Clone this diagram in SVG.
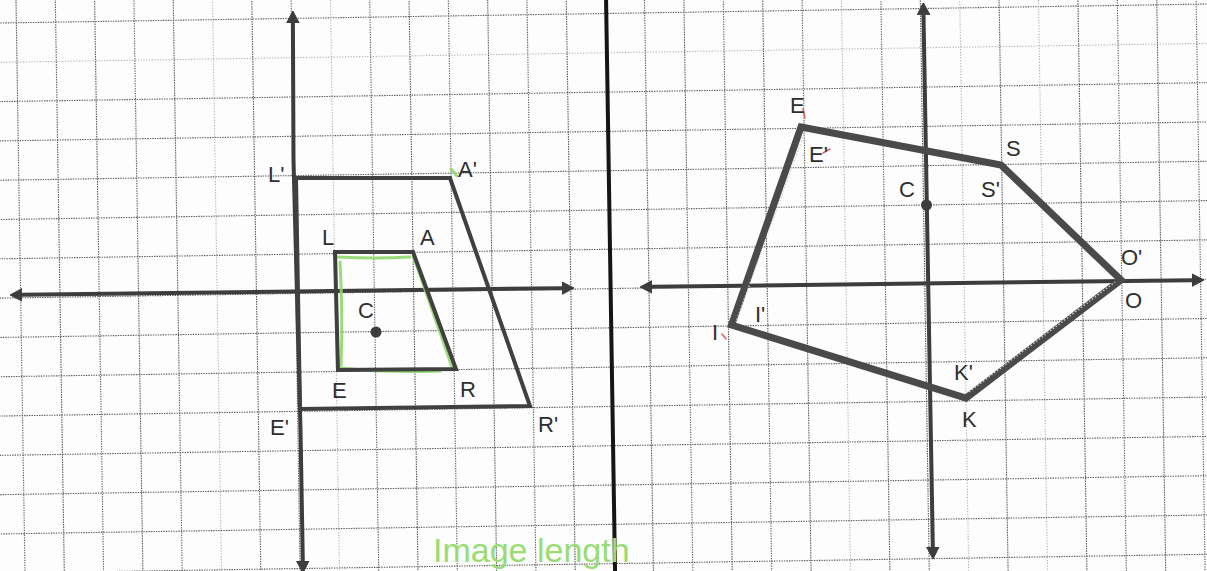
<svg xmlns="http://www.w3.org/2000/svg" width="1207" height="571" viewBox="0 0 1207 571">
  <style>
    .g { stroke: #5a5a5a; stroke-width: 1.1; stroke-dasharray: 1.4 1.1; fill: none; }
    .gf { stroke: #a8a8a8; stroke-width: 1; stroke-dasharray: 1.2 1.6; fill: none; }
    .axis { stroke: #3d3d3d; stroke-width: 4; fill: none; marker-start: url(#ah); marker-end: url(#ah); }
    .shapeL { stroke: #404040; stroke-width: 4; fill: none; stroke-linejoin: miter; }
    .shapeR { stroke: #4a4a4a; stroke-width: 7; fill: none; stroke-linejoin: miter; }
    .hl { stroke: #d0d0d0; stroke-width: 1.4; stroke-dasharray: 1.5 2; fill: none; }
    .green { stroke: #8fd86a; stroke-width: 3; fill: none; stroke-linecap: round; opacity: 0.9; }
    .red { stroke: #e06060; stroke-width: 1.5; fill: none; stroke-linecap: round; }
    .lbl { font-family: "Liberation Sans", Arial, sans-serif; font-size: 22px; fill: #2e2e2e; }
    .dot { fill: #3d3d3d; }
  </style>
  <defs>
    <marker id="ah" viewBox="0 0 12 14" refX="0" refY="7" markerWidth="12" markerHeight="14" markerUnits="userSpaceOnUse" orient="auto-start-reverse">
      <path d="M0,0.8 L12,7 L0,13.2 Z" fill="#3d3d3d" stroke="#3d3d3d" stroke-width="1" stroke-linejoin="round"/>
    </marker>
  </defs>
  <rect x="0" y="0" width="1207" height="571" fill="#fdfdfd"/>

  <!-- graph paper grid (slightly rotated scan) -->
  <g id="grid" transform="rotate(-0.9)">
    <g id="grid-h">
      <line class="g" x1="-20" y1="23" x2="1240" y2="23"/>
      <line class="gf" x1="-20" y1="62.3" x2="1240" y2="62.3"/>
      <line class="g" x1="-20" y1="101.6" x2="1240" y2="101.6"/>
      <line class="g" x1="-20" y1="140.9" x2="1240" y2="140.9"/>
      <line class="g" x1="-20" y1="180.2" x2="1240" y2="180.2"/>
      <line class="g" x1="-20" y1="219.5" x2="1240" y2="219.5"/>
      <line class="g" x1="-20" y1="258.8" x2="1240" y2="258.8"/>
      <line class="g" x1="-20" y1="298.1" x2="1240" y2="298.1"/>
      <line class="g" x1="-20" y1="337.4" x2="1240" y2="337.4"/>
      <line class="g" x1="-20" y1="376.7" x2="1240" y2="376.7"/>
      <line class="g" x1="-20" y1="416" x2="1240" y2="416"/>
      <line class="g" x1="-20" y1="455.3" x2="1240" y2="455.3"/>
      <line class="g" x1="-20" y1="494.6" x2="1240" y2="494.6"/>
      <line class="g" x1="-20" y1="533.9" x2="1240" y2="533.9"/>
      <line class="g" x1="-20" y1="573.2" x2="1240" y2="573.2"/>
    </g>
    <g id="grid-v-left">
      <line class="g" x1="16" y1="-20" x2="16" y2="600"/>
      <line class="g" x1="55.3" y1="-20" x2="55.3" y2="600"/>
      <line class="g" x1="94.6" y1="-20" x2="94.6" y2="600"/>
      <line class="g" x1="133.9" y1="-20" x2="133.9" y2="600"/>
      <line class="g" x1="173.2" y1="-20" x2="173.2" y2="600"/>
      <line class="gf" x1="212.5" y1="-20" x2="212.5" y2="600"/>
      <line class="g" x1="251.8" y1="-20" x2="251.8" y2="600"/>
      <line class="g" x1="291.1" y1="-20" x2="291.1" y2="600"/>
      <line class="gf" x1="330.4" y1="-20" x2="330.4" y2="600"/>
      <line class="g" x1="369.7" y1="-20" x2="369.7" y2="600"/>
      <line class="g" x1="409" y1="-20" x2="409" y2="600"/>
      <line class="g" x1="448.3" y1="-20" x2="448.3" y2="600"/>
      <line class="g" x1="487.6" y1="-20" x2="487.6" y2="600"/>
      <line class="g" x1="526.9" y1="-20" x2="526.9" y2="600"/>
      <line class="g" x1="566.2" y1="-20" x2="566.2" y2="600"/>
    </g>
    <g id="grid-v-right">
      <line class="g" x1="644.4" y1="-20" x2="644.4" y2="600"/>
      <line class="g" x1="683.8" y1="-20" x2="683.8" y2="600"/>
      <line class="g" x1="723.2" y1="-20" x2="723.2" y2="600"/>
      <line class="g" x1="762.6" y1="-20" x2="762.6" y2="600"/>
      <line class="g" x1="802" y1="-20" x2="802" y2="600"/>
      <line class="gf" x1="841.4" y1="-20" x2="841.4" y2="600"/>
      <line class="g" x1="880.8" y1="-20" x2="880.8" y2="600"/>
      <line class="g" x1="920.2" y1="-20" x2="920.2" y2="600"/>
      <line class="gf" x1="959.6" y1="-20" x2="959.6" y2="600"/>
      <line class="g" x1="999" y1="-20" x2="999" y2="600"/>
      <line class="gf" x1="1038.4" y1="-20" x2="1038.4" y2="600"/>
      <line class="g" x1="1077.8" y1="-20" x2="1077.8" y2="600"/>
      <line class="g" x1="1117.2" y1="-20" x2="1117.2" y2="600"/>
      <line class="g" x1="1156.6" y1="-20" x2="1156.6" y2="600"/>
      <line class="g" x1="1196" y1="-20" x2="1196" y2="600"/>
    </g>
    <line id="divider" x1="606" y1="-20" x2="606" y2="600" stroke="#151515" stroke-width="4"/>
  </g>

  <!-- axes -->
  <g id="axes">
    <polyline class="axis" points="292.9,23 293.5,160 300.5,430 302.8,561"/>
    <line class="axis" x1="22" y1="294.85" x2="562" y2="288.15"/>
    <line class="axis" x1="652" y1="286.85" x2="1192" y2="280.15"/>
    <line class="axis" x1="923.5" y1="14.7" x2="932.8" y2="547"/>
  </g>

  <!-- left: trapezoid LEAR and image L'E'A'R' -->
  <g id="trap-image">
    <polygon class="shapeL" points="296,178 450,178 530,406 300,409"/>
  </g>
  <g id="trap-green">
    <path class="green" d="M338,257 Q375,259 410,257"/>
    <path class="green" d="M414,258 Q432,310 452,367"/>
    <path class="green" d="M341,368 Q390,373 440,371"/>
    <path class="green" d="M340,262 Q343,315 341,365"/>
    <path class="green" d="M451,169 L457,176"/>
  </g>
  <g id="trap-pre">
    <polygon class="shapeL" points="335,252 413,252 456,369 338,370"/>
  </g>
  <g id="center-left">
    <circle class="dot" cx="376" cy="332" r="5.5"/>
  </g>

  <!-- right: pentagon ESOKI and its image -->
  <g id="pentagon">
    <polygon class="shapeR" points="801,127 1001,165 1121,280 966,398 731.5,325"/>
    <line class="hl" x1="804" y1="134" x2="736" y2="322"/>
    <line class="hl" x1="969" y1="392" x2="1115" y2="282"/>
  </g>
  <g id="center-right">
    <circle class="dot" cx="926.5" cy="205" r="5.5"/>
  </g>
  <g id="red-ticks">
    <path class="red" d="M803,109 L805,118"/>
    <path class="red" d="M823,153 L830,149"/>
    <path class="red" d="M722,334 L726,339"/>
  </g>

  <!-- labels -->
  <g id="labels-left">
    <text class="lbl" x="268" y="182">L'</text>
    <text class="lbl" x="458" y="177">A'</text>
    <text class="lbl" x="322" y="245">L</text>
    <text class="lbl" x="420" y="245">A</text>
    <text class="lbl" x="358" y="318">C</text>
    <text class="lbl" x="332" y="398">E</text>
    <text class="lbl" x="460" y="397">R</text>
    <text class="lbl" x="270" y="435">E'</text>
    <text class="lbl" x="538" y="432">R'</text>
  </g>
  <g id="labels-right">
    <text class="lbl" x="790" y="113">E</text>
    <text class="lbl" x="809" y="162">E'</text>
    <text class="lbl" x="1006" y="156">S</text>
    <text class="lbl" x="981" y="197">S'</text>
    <text class="lbl" x="899" y="197">C</text>
    <text class="lbl" x="1121" y="265">O'</text>
    <text class="lbl" x="1125" y="308">O</text>
    <text class="lbl" x="755" y="322">I'</text>
    <text class="lbl" x="712" y="340">I</text>
    <text class="lbl" x="954" y="380">K'</text>
    <text class="lbl" x="962" y="427">K</text>
  </g>

  <text id="note" x="433" y="562" font-family="Liberation Sans, Arial, sans-serif" font-size="34" fill="#98dc74">Image length</text>
</svg>
